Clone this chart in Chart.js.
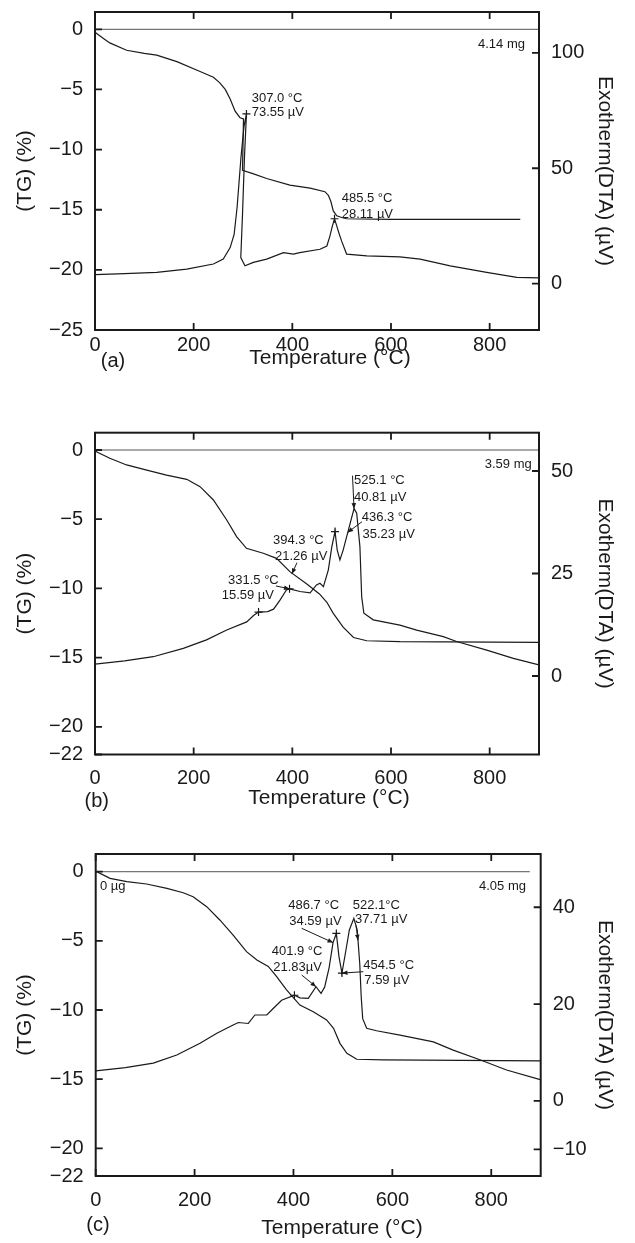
<!DOCTYPE html>
<html>
<head>
<meta charset="utf-8">
<title>TG / DTA curves</title>
<script src="https://cdn.jsdelivr.net/npm/chart.js@4.4.1/dist/chart.umd.min.js"></script>
<style>
  html, body { margin: 0; padding: 0; background: #fff; }
  canvas { position: absolute; left: 0; }
</style>
</head>
<body>
<canvas id="chartA" width="635" height="397" style="top:-12px"></canvas>
<canvas id="chartB" width="635" height="430" style="top:385px"></canvas>
<canvas id="chartC" width="635" height="428" style="top:815px"></canvas>
<script>
const INK = '#1a1a1a';
const FONT = "'Liberation Sans', Arial, Helvetica, sans-serif";

const tempTicks = [0, 200, 400, 600, 800];

// ---- (a) 4.14 mg ----
const tgTicksA = [0, -5, -10, -15, -20, -25];
const dtaTicksA = [0, 50, 100];
const baseTempA = [0, 900];
const baseA = [0, 0];
const tgTempA = [0, 15, 30, 64, 100, 125, 166, 213, 240, 253, 264, 274, 284, 294, 301, 299, 320, 348, 395, 436, 466, 473, 478, 483, 490, 500, 510, 600, 700, 862];
const tgA = [-0.25, -0.7, -1.13, -1.74, -2.0, -2.15, -2.69, -3.51, -3.98, -4.45, -5.0, -5.8, -6.8, -7.35, -7.45, -11.72, -12.0, -12.4, -12.95, -13.2, -13.5, -13.8, -14.3, -15.1, -15.5, -15.65, -15.75, -15.8, -15.8, -15.8];
const dtaTempA = [0, 60, 125, 186, 240, 260, 274, 282, 288, 296, 302, 307.0, 303, 299, 295.5, 304, 321, 348, 382, 402, 415, 456, 470, 476, 481, 485.5, 490, 495, 500, 510, 551, 618, 659, 720, 794, 855, 900];
const dtaA = [3.9, 4.3, 4.9, 6.3, 8.5, 10.6, 15.6, 21.3, 33, 55, 68, 73.55, 55, 30, 11.3, 7.7, 9.2, 10.6, 13.4, 12.8, 13.4, 14.9, 16.3, 20.5, 24.8, 28.11, 25.0, 21.5, 18.4, 12.8, 12.0, 11.6, 10.6, 7.7, 4.9, 2.7, 2.5];
const labelTempA = [307.0, 485.5];
const labelValA = [73.55, 28.11];

// ---- (b) 3.59 mg ----
const tgTicksB = [0, -5, -10, -15, -20, -22];
const dtaTicksB = [0, 25, 50];
const baseTempB = [0, 900];
const baseB = [0, 0];
const tgTempB = [0, 3, 30, 64, 105, 145, 186, 213, 240, 267, 287, 307, 341, 368, 395, 430, 455, 470, 483, 503, 524, 551, 618, 900];
const tgB = [0, -0.12, -0.6, -1.08, -1.45, -1.81, -2.12, -2.65, -3.61, -5.06, -6.26, -7.1, -7.46, -7.83, -8.79, -9.7, -10.4, -11.0, -11.8, -12.8, -13.55, -13.78, -13.85, -13.9];
const dtaTempB = [0, 60, 118, 179, 226, 267, 307.5, 322, 331.5, 350, 362, 375, 388, 394.3, 415.6, 436, 449, 456, 463, 473, 480, 486.5, 491, 496.5, 503, 513.6, 525.1, 530.5, 537, 540.6, 545, 564, 618, 652, 706, 733, 794, 848, 900];
const dtaB = [2.9, 3.7, 4.7, 6.75, 8.8, 11.2, 13.2, 14.8, 15.59, 15.7, 16.3, 18.5, 21.0, 21.26, 20.6, 20.3, 22.2, 22.6, 21.8, 25.9, 31.5, 35.23, 30.7, 28.3, 30.7, 35.6, 40.81, 39.7, 31.5, 19.3, 15.3, 13.7, 12.4, 11.2, 9.6, 8.4, 6.3, 4.3, 2.7];
const labelTempB = [525.1, 436.3, 394.3, 331.5];
const labelValB = [40.81, 35.23, 21.26, 15.59];
const markTempB = [331.5, 394.3, 486.5];
const markValB = [15.59, 21.26, 35.23];

// ---- (c) 4.05 mg ----
const tgTicksC = [0, -5, -10, -15, -20, -22];
const dtaTicksC = [-10, 0, 20, 40];
const baseTempC = [0, 878];
const baseC = [0, 0];
const tgTempC = [0, 2, 29, 63, 103, 144, 177, 197, 224.5, 251, 278, 305, 326, 349, 366, 386, 413, 440, 467, 481, 494, 508, 528, 582, 899];
const tgC = [0, 0, -0.48, -0.72, -0.89, -1.2, -1.52, -1.81, -2.53, -3.49, -4.58, -5.78, -6.38, -6.85, -7.59, -8.55, -9.64, -10.12, -10.72, -11.32, -12.41, -13.13, -13.56, -13.61, -13.67];
const dtaTempC = [0, 60, 116.5, 164, 211, 245, 278, 288.5, 308.6, 322, 346, 359, 376, 401.9, 413, 430, 445.6, 455.7, 463, 472, 480, 486.7, 492, 498, 505, 513, 522.1, 529, 534, 537, 540, 548, 568, 615.5, 683, 723, 777, 831, 899];
const dtaC = [6.2, 6.9, 7.8, 9.5, 11.9, 14.0, 15.7, 16.2, 16.0, 17.75, 17.75, 19.1, 20.8, 21.83, 21.3, 21.2, 23.6, 22.2, 23.5, 27.5, 32.7, 34.59, 29.8, 26.4, 30.5, 35.3, 37.71, 35.3, 28.4, 21.5, 17.0, 15.0, 14.5, 13.6, 12.2, 10.5, 8.5, 6.4, 4.4];
const labelTempC = [486.7, 522.1, 401.9, 454.5];
const labelValC = [34.59, 37.71, 21.83, 7.59];
const markTempC = [401.9, 486.7, 498];
const markValC = [21.83, 34.59, 26.4];

const degC = (t, sep = ' ') => t.toFixed(1) + sep + '\u00b0C';
const microV = (v, sep = ' ') => v.toFixed(2) + sep + '\u00b5V';
const signed = v => (v < 0 ? '\u2212' + (-v) : String(v));
const pts = (xs, ys) => xs.map((x, i) => ({ x, y: ys[i] }));

Chart.defaults.font.family = FONT;
Chart.defaults.color = INK;

const TICK = 7;

function drawArrow(ctx, x1, y1, x2, y2) {
  ctx.beginPath();
  ctx.moveTo(x1, y1);
  ctx.lineTo(x2, y2);
  ctx.stroke();
  const a = Math.atan2(y2 - y1, x2 - x1), L = 5.5, W = 2.3;
  ctx.beginPath();
  ctx.moveTo(x2, y2);
  ctx.lineTo(x2 - L * Math.cos(a) + W * Math.sin(a), y2 - L * Math.sin(a) - W * Math.cos(a));
  ctx.lineTo(x2 - L * Math.cos(a) - W * Math.sin(a), y2 - L * Math.sin(a) + W * Math.cos(a));
  ctx.closePath();
  ctx.fill();
}

// frame, inward ticks, notes, arrows and the temperature caption
function decor(p) {
  return {
    id: 'decor',
    afterDraw(chart) {
      const { ctx, chartArea: a, scales } = chart;
      ctx.save();
      ctx.strokeStyle = INK;
      ctx.fillStyle = INK;
      ctx.lineWidth = 2;
      ctx.strokeRect(a.left, a.top, a.right - a.left, a.bottom - a.top);

      ctx.lineWidth = 1.8;
      ctx.beginPath();
      scales.x.ticks.forEach(t => {
        const x = scales.x.getPixelForValue(t.value);
        ctx.moveTo(x, a.bottom); ctx.lineTo(x, a.bottom - TICK);
        ctx.moveTo(x, a.top); ctx.lineTo(x, a.top + TICK);
      });
      scales.y.ticks.forEach(t => {
        const y = scales.y.getPixelForValue(t.value);
        ctx.moveTo(a.left, y); ctx.lineTo(a.left + TICK, y);
      });
      scales.y1.ticks.forEach(t => {
        const y = scales.y1.getPixelForValue(t.value);
        ctx.moveTo(a.right, y); ctx.lineTo(a.right - TICK, y);
      });
      ctx.stroke();

      ctx.font = '13px ' + FONT;
      ctx.textBaseline = 'middle';
      p.notes.forEach(n => {
        ctx.textAlign = n.align || 'left';
        ctx.fillText(n.text, a.left + n.at[0], a.top + n.at[1]);
      });

      ctx.lineWidth = 1;
      p.arrows.forEach(r => {
        const x2 = scales.x.getPixelForValue(r.to[0]);
        const y2 = scales[r.axis || 'y1'].getPixelForValue(r.to[1]);
        drawArrow(ctx, a.left + r.from[0], a.top + r.from[1], x2, y2);
      });

      ctx.textAlign = 'center';
      ctx.font = '21px ' + FONT;
      ctx.fillText('Temperature (\u00b0C)', a.left + p.caption[0], a.bottom + p.caption[1]);
      ctx.font = '20px ' + FONT;
      ctx.fillText(p.letter, a.left + p.letterAt[0], a.bottom + p.letterAt[1]);
      ctx.restore();
    }
  };
}

function buildPanel(p) {
  const canvas = document.getElementById(p.id);
  const H = canvas.height;
  const curve = (data, axis, extra) => Object.assign({
    data, yAxisID: axis, borderColor: INK, borderWidth: 1.2,
    pointRadius: 0, tension: 0, fill: false
  }, extra);
  const fixed = list => scale => { scale.ticks = list.map(value => ({ value })); };

  return new Chart(canvas, {
    type: 'line',
    data: {
      datasets: [
        curve(pts(p.baseT, p.base), 'y', { borderColor: '#555', borderWidth: 1 }),
        curve(pts(p.tgT, p.tg), 'y'),
        curve(pts(p.dtaT, p.dta), 'y1'),
        curve(pts(p.markT, p.markV), 'y1', {
          showLine: false, pointStyle: 'cross', pointRadius: 4,
          pointBorderColor: INK, pointBorderWidth: 1.2
        })
      ]
    },
    options: {
      responsive: false,
      animation: false,
      layout: { padding: { top: p.area.top, left: 0, right: 0, bottom: 0 } },
      plugins: { legend: { display: false }, tooltip: { enabled: false } },
      scales: {
        x: {
          type: 'linear', min: 0, max: 900,
          afterBuildTicks: fixed(tempTicks),
          afterFit: s => { s.height = H - p.area.bottom; },
          grid: { display: false, drawTicks: false },
          border: { display: false },
          ticks: { padding: p.xPad, font: { size: 20 }, maxRotation: 0, autoSkip: false }
        },
        y: {
          position: 'left', min: p.tgRange[0], max: p.tgRange[1],
          afterBuildTicks: fixed(p.tgTicks),
          afterFit: s => { s.width = p.area.left; },
          grid: { display: false, drawTicks: false },
          border: { display: false },
          ticks: { padding: 12, font: { size: 20 }, callback: signed },
          title: { display: true, text: '(TG) (%)', font: { size: 21 }, padding: { top: 12.4, bottom: 0 } }
        },
        y1: {
          position: 'right', min: p.dtaRange[0], max: p.dtaRange[1],
          afterBuildTicks: fixed(p.dtaTicks),
          afterFit: s => { s.width = 635 - p.area.right; },
          grid: { display: false, drawTicks: false },
          border: { display: false },
          ticks: { padding: 12, font: { size: 20 }, callback: signed },
          title: { display: true, text: 'Exotherm(DTA) (\u00b5V)', font: { size: 21 }, padding: { top: 17.4, bottom: 0 } }
        }
      }
    },
    plugins: [decor(p)]
  });
}

buildPanel({
  id: 'chartA',
  area: { left: 95, right: 539, top: 20, bottom: 342 },
  tgRange: [-25, 1.44], dtaRange: [-20.1, 117.7],
  tgTicks: tgTicksA, dtaTicks: dtaTicksA, xPad: 3,
  baseT: baseTempA, base: baseA, tgT: tgTempA, tg: tgA, dtaT: dtaTempA, dta: dtaA,
  markT: labelTempA, markV: labelValA,
  notes: [
    { text: degC(labelTempA[0]), at: [156.7, 86.3] },
    { text: microV(labelValA[0]), at: [156.7, 100.3] },
    { text: degC(labelTempA[1]), at: [246.7, 186] },
    { text: microV(labelValA[1]), at: [246.7, 202] },
    { text: '4.14 mg', at: [430, 32], align: 'right' }
  ],
  arrows: [],
  caption: [235, 28], letter: '(a)', letterAt: [18, 31]
});

buildPanel({
  id: 'chartB',
  area: { left: 95, right: 539, top: 47.7, bottom: 369.5 },
  tgRange: [-22, 1.25], dtaRange: [-19.15, 59.34],
  tgTicks: tgTicksB, dtaTicks: dtaTicksB, xPad: 12,
  baseT: baseTempB, base: baseB, tgT: tgTempB, tg: tgB, dtaT: dtaTempB, dta: dtaB,
  markT: markTempB, markV: markValB,
  notes: [
    { text: degC(labelTempB[0]), at: [259, 47.3] },
    { text: microV(labelValB[0]), at: [259, 64.3] },
    { text: degC(labelTempB[1]), at: [266.7, 85] },
    { text: microV(labelValB[1]), at: [267.5, 101.3] },
    { text: degC(labelTempB[2]), at: [178, 107.3] },
    { text: microV(labelValB[2]), at: [180, 124] },
    { text: degC(labelTempB[3]), at: [133, 147.3] },
    { text: microV(labelValB[3]), at: [126.7, 162.8] },
    { text: '3.59 mg', at: [436.7, 31.3], align: 'right' }
  ],
  arrows: [
    { from: [257.5, 43], to: [525.1, 40.81] },
    { from: [267, 89], to: [512, 35.0] },
    { from: [202, 130], to: [399, -8.95], axis: 'y' },
    { from: [181, 153.3], to: [394.3, 21.26] }
  ],
  caption: [234, 43.5], letter: '(b)', letterAt: [1.7, 47.2]
});

buildPanel({
  id: 'chartC',
  area: { left: 95.7, right: 540.7, top: 39, bottom: 361 },
  tgRange: [-22, 1.28], dtaRange: [-15.5, 51],
  tgTicks: tgTicksC, dtaTicks: dtaTicksC, xPad: 12,
  baseT: baseTempC, base: baseC, tgT: tgTempC, tg: tgC, dtaT: dtaTempC, dta: dtaC,
  markT: markTempC, markV: markValC,
  notes: [
    { text: '0 \u00b5g', at: [4.3, 32.7] },
    { text: '4.05 mg', at: [430.3, 32], align: 'right' },
    { text: degC(labelTempC[0]), at: [192.6, 51] },
    { text: microV(labelValC[0]), at: [193.6, 67.7] },
    { text: degC(labelTempC[1], ''), at: [257, 51] },
    { text: microV(labelValC[1]), at: [259.3, 65.3] },
    { text: degC(labelTempC[2]), at: [176, 97.7] },
    { text: microV(labelValC[2], ''), at: [177.6, 113.3] },
    { text: degC(labelTempC[3]), at: [267.6, 111.7] },
    { text: microV(labelValC[3]), at: [268.6, 126.7] }
  ],
  arrows: [
    { from: [206, 74.3], to: [480, 32.7] },
    { from: [260.3, 71.5], to: [530.5, 33.2] },
    { from: [206, 121], to: [445.6, 23.6] },
    { from: [267.6, 117.7], to: [498, 26.4] }
  ],
  caption: [246.3, 52], letter: '(c)', letterAt: [2.3, 49]
});
</script>
</body>
</html>
